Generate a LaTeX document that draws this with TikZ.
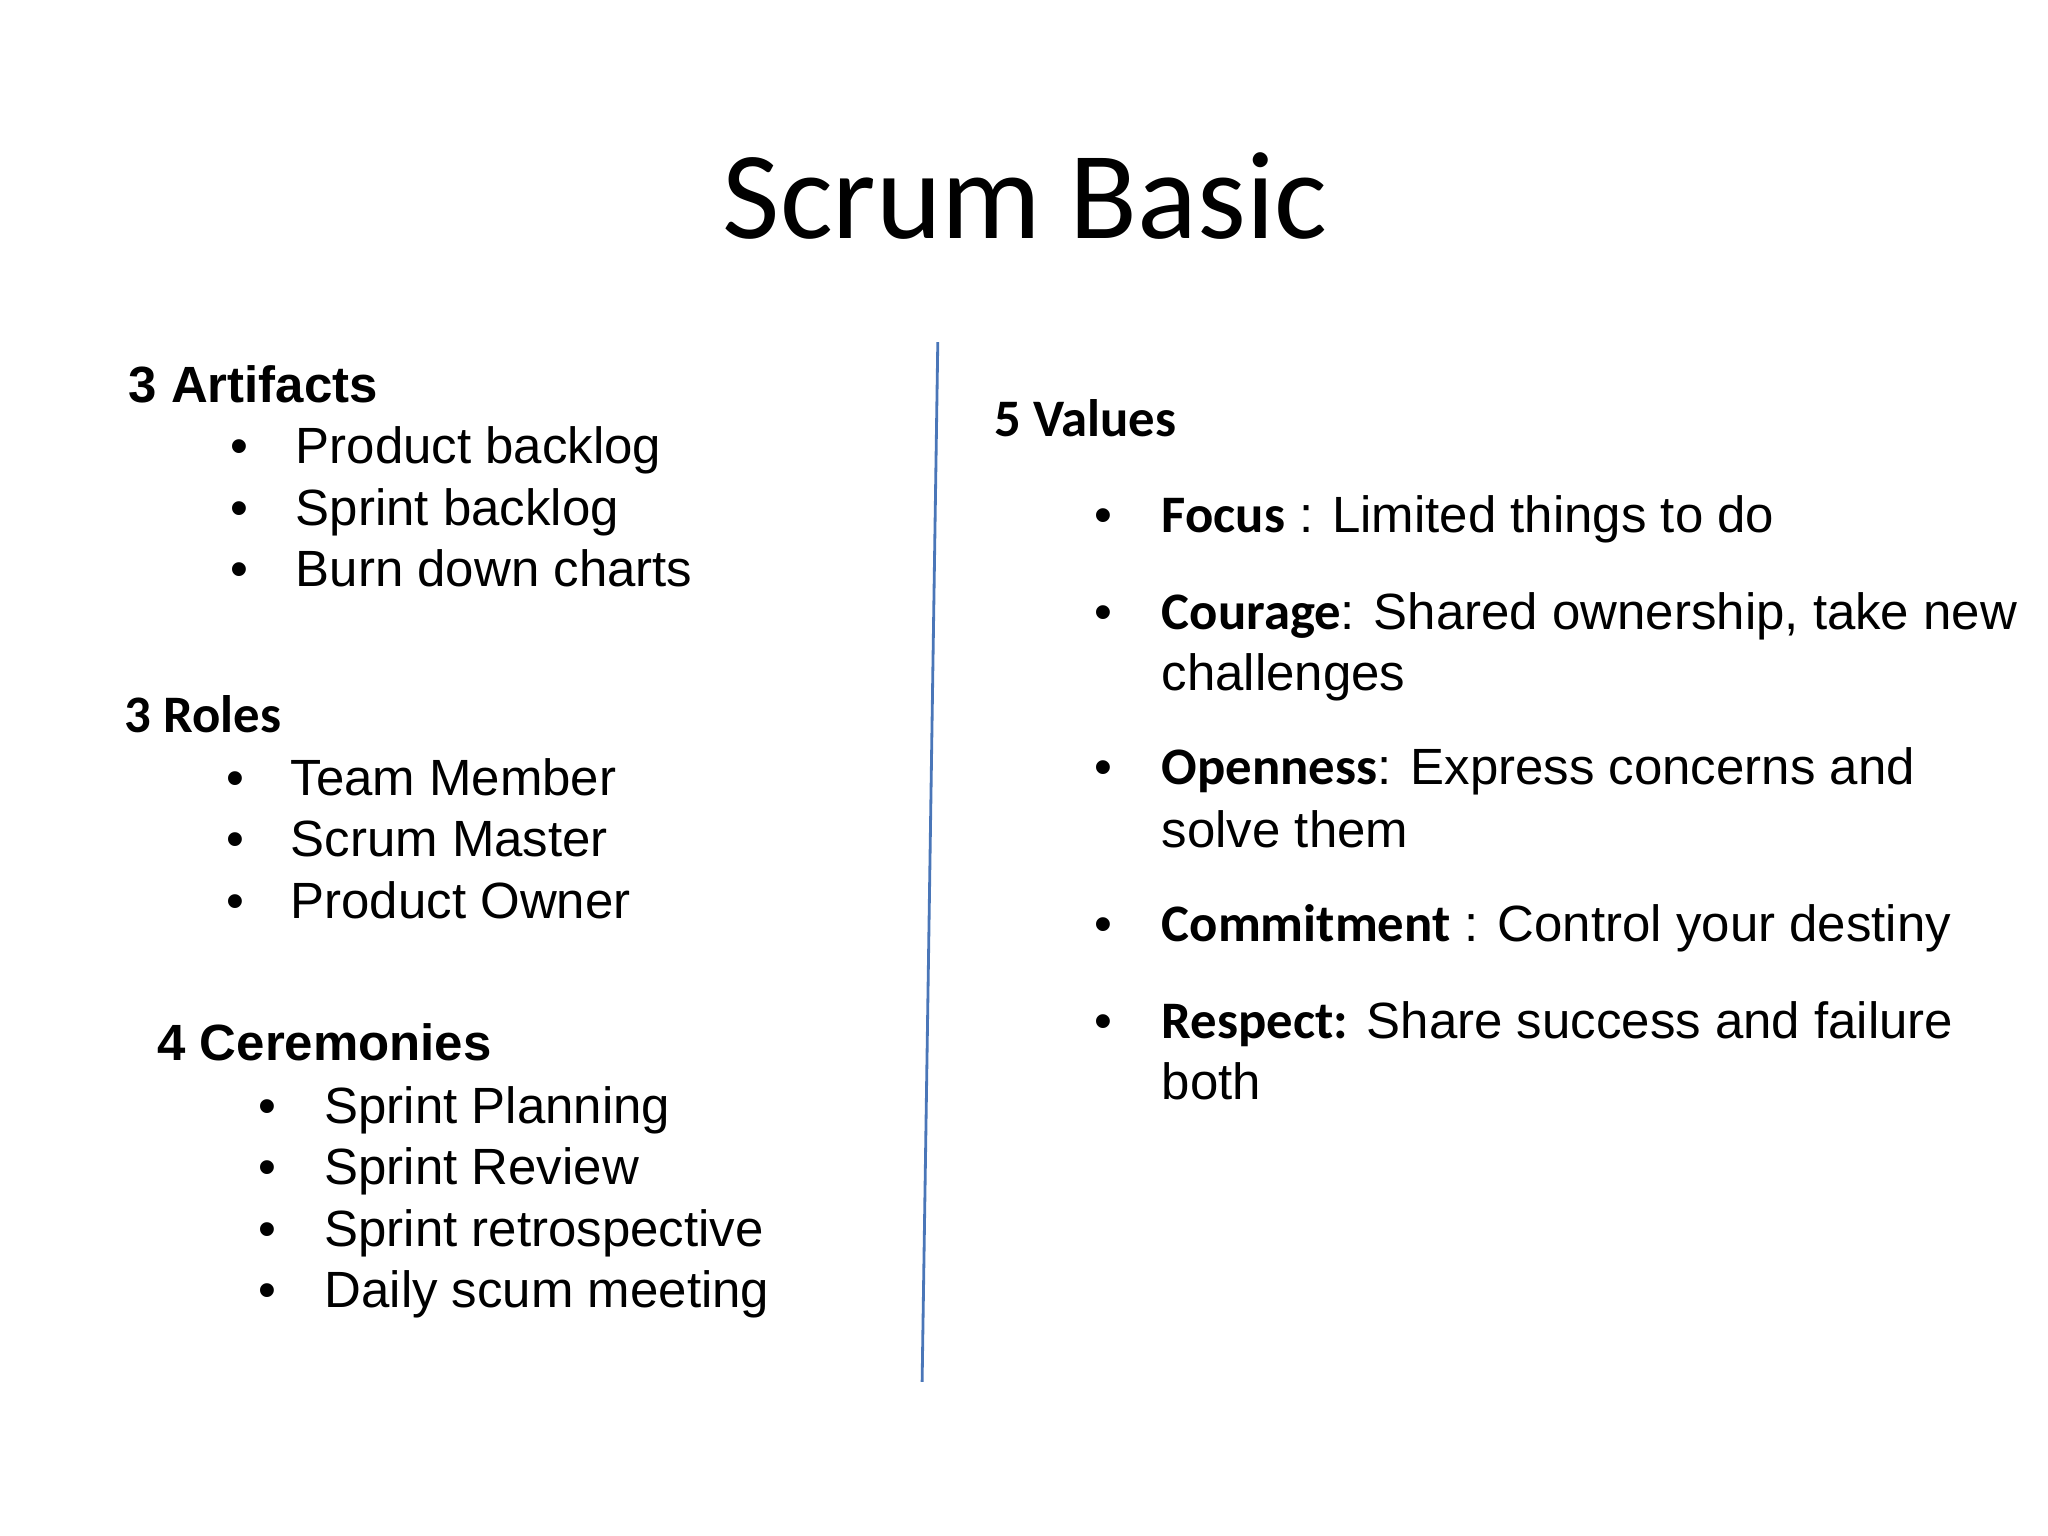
\documentclass[tikz,border=0pt]{standalone}
\usepackage{fontspec}
\setmainfont{Liberation Sans}
\newfontfamily\calfont{Carlito}
\definecolor{lineblue}{HTML}{4A76B8}
\begin{document}
\begin{tikzpicture}[x=0.01306cm,y=-0.01306cm,
  t/.style={anchor=base west,inner sep=0,font=\fontsize{14.5}{17}\selectfont},
  hd/.style={anchor=base west,inner sep=0,font=\fontsize{14.5}{17}\selectfont\bfseries},
  ch/.style={anchor=base west,inner sep=0,font=\calfont\fontsize{15}{17}\selectfont\bfseries},
  b/.style={anchor=base,inner sep=0,font=\fontsize{14.5}{17}\selectfont}]
\useasboundingbox (0,0) rectangle (1568,1176);
\node[inner sep=0,font=\calfont\fontsize{35.5}{40}\selectfont] (title) at (785,150) {Scrum Basic};
\coordinate (l1) at (718,262); \coordinate (l2) at (706,1058);
\draw[lineblue,line width=0.8pt] (l1) -- (l2);
% Artifacts
\node[hd] (ah) at (98,308) {3 Artifacts};
\foreach \y/\s [count=\i] in {355/Product backlog,402/Sprint backlog,449/Burn down charts}{
  \node[b] (ab\i) at (183,\y) {•}; \node[t] (a\i) at (226,\y) {\s};}
% Roles
\node[ch] (rh) at (95,561) {3 Roles};
\foreach \y/\s [count=\i] in {609/Team Member,656/Scrum Master,703/Product Owner}{
  \node[b] (rb\i) at (180,\y) {•}; \node[t] (r\i) at (222,\y) {\s};}
% Ceremonies
\node[hd] (ch) at (120,812) {4 Ceremonies};
\foreach \y/\s [count=\i] in {860/Sprint Planning,907/Sprint Review,954/Sprint retrospective,1001/Daily scum meeting}{
  \node[b] (cb\i) at (205,\y) {•}; \node[t] (c\i) at (248,\y) {\s};}
% Values
\node[ch] (vh) at (761,334) {5 Values};
\foreach \y [count=\i] in {408,482,601,721,795}{\node[b] (vb\i) at (845,\y) {•};}
\node[t] (v1) at (889,408) {{\calfont\fontsize{15}{17}\selectfont\bfseries Focus} : Limited things to do};
\node[t] (v2) at (889,482) {{\calfont\fontsize{15}{17}\selectfont\bfseries Courage}: Shared ownership, take new};
\node[t] (v2b) at (889,529) {challenges};
\node[t] (v3) at (889,601) {{\calfont\fontsize{15}{17}\selectfont\bfseries Openness}: Express concerns and};
\node[t] (v3b) at (889,649) {solve them};
\node[t] (v4) at (889,721) {{\calfont\fontsize{15}{17}\selectfont\bfseries Commitment} : Control your destiny};
\node[t] (v5) at (889,795) {{\calfont\fontsize{15}{17}\selectfont\bfseries Respect:} Share success and failure};
\node[t] (v5b) at (889,842) {both};
\end{tikzpicture}
\end{document}
